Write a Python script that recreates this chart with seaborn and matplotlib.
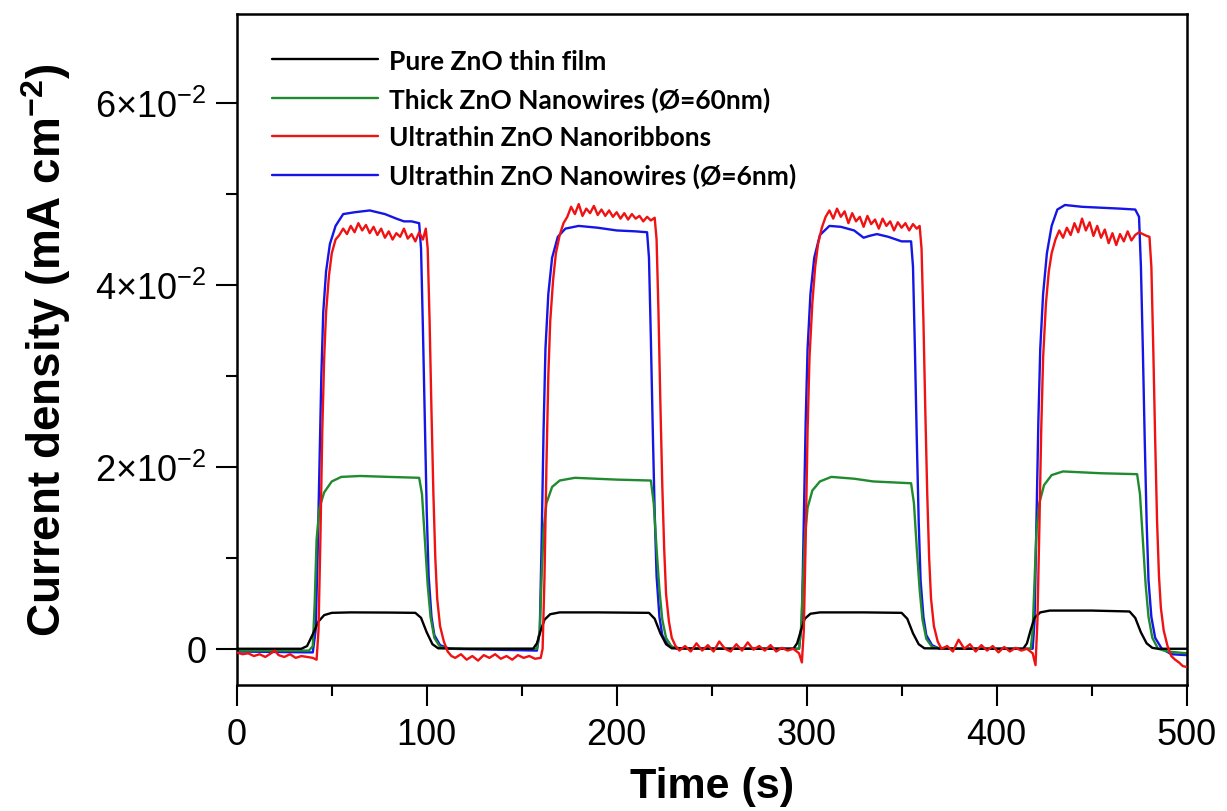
import numpy as np
import pandas as pd
import seaborn as sns
import matplotlib
matplotlib.use('Agg')
import matplotlib.pyplot as plt
from matplotlib.ticker import MultipleLocator

# photocurrent on/off cycles, values in units of 1e-3 mA cm^-2
pure_film = [(0, 0), (34, 0), (37, 0.3), (40, 1.6), (43, 3.0), (46, 3.7), (50, 3.95), (60, 4.0), (80, 3.98),
             (94, 3.95), (97, 3.4), (100, 1.8), (103, 0.5), (106, 0.05), (120, 0), (156, 0), (158, 0.6),
             (160, 2.0), (162, 3.2), (165, 3.8), (170, 4.0), (190, 4.0), (217, 3.95), (220, 3.3), (223, 1.7),
             (226, 0.5), (229, 0.05), (260, 0), (293, 0), (295, 0.6), (297, 2.0), (299, 3.3), (302, 3.85),
             (307, 4.0), (330, 4.0), (350, 3.95), (353, 3.3), (356, 1.7), (359, 0.5), (362, 0.05), (390, 0),
             (414, 0), (416, 0.6), (418, 2.1), (420, 3.4), (423, 4.0), (428, 4.2), (450, 4.2), (470, 4.1),
             (473, 3.4), (476, 1.8), (479, 0.6), (482, 0.1), (485, 0), (500, 0)]

thick_nw = [(0, -0.2), (38, -0.2), (40, 0.3), (41, 5), (42, 12), (43.5, 15.5), (46, 17.2), (50, 18.4),
            (55, 18.9), (65, 19.0), (80, 18.9), (96, 18.8), (97.5, 17), (99, 12), (100.5, 7), (102, 3.5),
            (104, 1.2), (107, 0.2), (112, 0), (158, 0), (159.5, 2), (160.5, 8), (161.5, 13), (163, 16),
            (166, 17.8), (170, 18.5), (178, 18.8), (200, 18.6), (218, 18.5), (219.5, 16), (221, 11),
            (222.5, 6.5), (224, 3.2), (226, 1.2), (229, 0.2), (235, 0), (296, 0), (297, 2), (298, 7),
            (299, 12), (300.5, 15.5), (303, 17.4), (307, 18.4), (313, 18.9), (325, 18.7), (335, 18.4),
            (345, 18.3), (355, 18.2), (356.5, 16), (358, 11), (359.5, 6.5), (361, 3.2), (363, 1.1),
            (366, 0.2), (372, 0), (418, 0), (419, 2), (420, 7.5), (421, 13), (422.5, 16), (425, 18),
            (429, 19.1), (435, 19.5), (455, 19.3), (474, 19.2), (475.5, 17), (477, 12), (478.5, 7),
            (480, 3.5), (482, 1.2), (485, 0), (490, -0.3), (500, -0.5)]

nanoribbons = [(0, -0.4), (3, -0.6), (6, -0.5), (9, -0.8), (12, -0.6), (15, -0.9), (18, -0.5), (20, -0.2),
               (22, -0.7), (25, -0.9), (28, -0.6), (31, -1.0), (34, -0.8), (37, -0.9), (40, -1.0), (42, -1.2),
               (43, 2), (44, 12), (45, 24), (46, 32), (47, 37), (48.5, 41), (50, 43.5), (52, 45), (54, 45.5),
               (56, 46.2), (58, 45.6), (60, 46.5), (62, 45.8), (64, 46.8), (66, 46.0), (68, 46.6), (70, 45.7),
               (72, 46.4), (74, 45.5), (76, 46.2), (78, 45.2), (80, 45.9), (82, 45.0), (84, 45.7), (86, 45.3),
               (88, 46.2), (90, 45.1), (92, 45.6), (94, 44.8), (96, 45.8), (98, 45.0), (99.5, 46.2),
               (100.5, 44), (101.5, 36), (102.5, 26), (103.5, 17), (104.5, 10), (105.5, 5.5), (107, 2.5),
               (109, 0.8), (111, -0.3), (113, -0.8), (115, -1.0), (118, -0.6), (121, -1.2), (124, -0.8),
               (127, -1.3), (130, -0.7), (133, -1.0), (136, -0.6), (139, -1.1), (142, -0.8), (145, -1.2),
               (148, -0.7), (151, -1.0), (154, -0.8), (157, -1.1), (160, -1.0), (161, 0), (162, 8), (163, 20),
               (164, 30), (165, 36), (166.5, 40.5), (168, 43.5), (170, 45.5), (172, 46.8), (174, 47.5),
               (176, 48.6), (178, 47.8), (180, 48.9), (182, 47.6), (184, 48.4), (186, 47.9), (188, 48.7),
               (190, 47.7), (192, 48.3), (194, 47.6), (196, 48.2), (198, 47.5), (200, 48.0), (202, 47.3),
               (204, 47.9), (206, 47.2), (208, 47.8), (210, 47.3), (212, 47.6), (214, 47.0), (216, 47.5),
               (218, 47.1), (220, 47.4), (221, 45), (222, 37), (223, 27), (224, 18), (225, 11), (226, 6),
               (227.5, 3), (229, 1.2), (231, 0.3), (233, -0.2), (236, 0.3), (239, -0.3), (242, 0.6),
               (245, -0.2), (248, 0.4), (251, -0.3), (254, 0.8), (257, 0.0), (260, -0.3), (263, 0.5),
               (266, -0.2), (269, 0.7), (272, -0.1), (275, 0.3), (278, -0.2), (281, 0.4), (284, -0.3),
               (287, 0.1), (290, -0.2), (293, 0.0), (296, -0.5), (297.5, -1.5), (298.5, 2), (299.5, 12),
               (300.5, 24), (301.5, 32), (303, 38), (304.5, 42), (306, 44.5), (308, 46.3), (310, 47.5),
               (312, 48.2), (314, 47.3), (316, 48.4), (318, 47.5), (320, 48.1), (322, 46.8), (324, 47.9),
               (326, 47.0), (328, 47.5), (330, 46.4), (332, 47.6), (334, 46.7), (336, 47.2), (338, 46.2),
               (340, 47.3), (342, 46.5), (344, 47.0), (346, 46.0), (348, 46.9), (350, 46.3), (352, 46.8),
               (354, 46.0), (356, 46.7), (358, 46.2), (359.5, 46.5), (360.5, 44), (361.5, 36), (362.5, 26),
               (363.5, 17), (364.5, 10), (365.5, 5.5), (367, 2.5), (369, 0.8), (371, 0.0), (374, 0.3),
               (377, -0.3), (380, 1.0), (383, 0.0), (386, 0.5), (389, -0.3), (392, 0.4), (395, -0.2),
               (398, 0.3), (401, -0.4), (404, 0.2), (407, -0.3), (410, 0.1), (413, -0.2), (416, 0.0),
               (419, -0.5), (420.5, -1.8), (421.5, 3), (422.5, 13), (423.5, 24), (424.5, 32), (426, 38),
               (427.5, 41.5), (429, 43.5), (431, 45.0), (433, 46.0), (435, 45.2), (437, 46.3), (439, 45.5),
               (441, 46.8), (443, 45.8), (445, 47.3), (447, 46.0), (449, 46.9), (451, 45.4), (453, 46.5),
               (455, 45.2), (457, 46.1), (459, 44.6), (461, 45.7), (463, 44.4), (465, 45.6), (467, 44.8),
               (469, 45.9), (471, 44.9), (473, 45.5), (475, 45.8), (477, 45.6), (479, 45.4), (480.5, 45.3),
               (481.5, 42), (482.5, 33), (483.5, 23), (484.5, 14), (485.5, 8), (486.5, 4.5), (488, 2),
               (490, 0.3), (492, -0.8), (494, -1.2), (496, -1.5), (498, -1.9), (500, -2.0)]

thin_nw = [(0, -0.3), (40, -0.4), (41.5, 2), (42.5, 10), (43.5, 20), (44.5, 30), (45.5, 37), (47, 41.5),
           (49, 44.5), (52, 46.5), (56, 47.8), (62, 48.0), (70, 48.2), (78, 47.8), (84, 47.3), (88, 47.0),
           (92, 47.0), (96, 46.8), (97, 44), (98, 35), (99, 25), (100, 15), (101, 8), (102.5, 3.5),
           (104, 1.5), (107, 0.4), (112, 0), (158, -0.2), (159.5, 2), (160.5, 12), (161.5, 24), (162.5, 33),
           (164, 39), (166, 43), (169, 45.3), (173, 46.2), (180, 46.5), (190, 46.3), (200, 46.0),
           (210, 45.9), (216, 45.8), (217, 43), (218, 34), (219, 24), (220, 15), (221, 8), (222.5, 3.5),
           (224, 1.5), (227, 0.4), (232, 0), (296, 0), (297.5, 3), (298.5, 14), (299.5, 25), (300.5, 33),
           (302, 39), (304, 43), (307, 45.5), (312, 46.5), (318, 46.4), (325, 46), (330, 45.2), (333, 45.4),
           (337, 45.6), (343, 45.3), (350, 44.8), (355, 44.8), (356, 42), (357, 33), (358, 23), (359, 14),
           (360, 7.5), (361.5, 3.5), (363, 1.5), (366, 0.4), (370, 0), (419, 0), (420, 3), (421, 14),
           (422, 25), (423, 33), (424.5, 39), (426.5, 43.5), (429, 46.5), (432, 48.3), (436, 48.8),
           (445, 48.6), (455, 48.5), (465, 48.4), (473, 48.3), (475, 47.5), (476, 42), (477, 33), (478, 23),
           (479, 14), (480, 7.5), (481.5, 3.5), (483.5, 1.2), (487, 0), (492, -0.6), (500, -0.7)]

names = ['Pure ZnO thin film', 'Thick ZnO Nanowires (Ø=60nm)',
         'Ultrathin ZnO Nanoribbons', 'Ultrathin ZnO Nanowires (Ø=6nm)']
colours = ['#000000', '#1f8a2e', '#f01212', '#1515e6']

frames = []
for name, series in zip(names, [pure_film, thick_nw, nanoribbons, thin_nw]):
    d = pd.DataFrame(series, columns=['t', 'j'])
    d['j'] = d['j'] * 1e-3
    d['sample'] = name
    frames.append(d)
df = pd.concat(frames, ignore_index=True)

sns.set_style('ticks', {'axes.edgecolor': 'black', 'text.color': 'black', 'axes.labelcolor': 'black',
                        'xtick.color': 'black', 'ytick.color': 'black'})
plt.rcParams['font.family'] = ['Liberation Sans', 'DejaVu Sans']
plt.rcParams['mathtext.fontset'] = 'custom'
plt.rcParams['mathtext.rm'] = 'Liberation Sans'
plt.rcParams['mathtext.default'] = 'regular'

fig = plt.figure(figsize=(12.27, 8.12), dpi=100, facecolor='w')
ax = fig.add_axes([0.193, 0.155, 0.774, 0.8265])

sns.lineplot(data=df, x='t', y='j', hue='sample', hue_order=names, palette=colours,
             estimator=None, sort=False, linewidth=1.7, ax=ax)

# red on top, black above blue/green
zorders = [3, 2.2, 3.5, 2.1]
for line, z in zip(ax.get_lines()[:4], zorders):
    line.set_zorder(z)

ax.set_xlim(0, 500)
ax.set_ylim(-0.004, 0.0698)
ax.xaxis.set_major_locator(MultipleLocator(100))
ax.xaxis.set_minor_locator(MultipleLocator(50))
ax.set_yticks([0, 0.02, 0.04, 0.06],
              ['0', r'$2{\times}10^{-2}$', r'$4{\times}10^{-2}$', r'$6{\times}10^{-2}$'])
ax.yaxis.set_minor_locator(MultipleLocator(0.01))
ax.tick_params(which='major', direction='out', length=15, width=1.5, labelsize=26, pad=7)
ax.tick_params(which='minor', direction='out', length=8, width=1.5)
ax.tick_params(axis='x', which='major', pad=8)

for s in ax.spines.values():
    s.set_linewidth(1.8)
    s.set_visible(True)

ax.set_xlabel('Time (s)', fontsize=31, fontweight='bold', labelpad=10)
ax.set_ylabel(r'Current density (mA cm$^{-2}$)', fontsize=33, fontweight='bold', labelpad=16)

handles, labels = ax.get_legend_handles_labels()
leg = ax.legend(handles, labels, loc='upper left', bbox_to_anchor=(0.012, 0.984), frameon=False,
                handlelength=4.0, handletextpad=0.42, labelspacing=0.52,
                prop={'family': 'Lato', 'weight': 'bold', 'size': 19})
for l in leg.get_lines():
    l.set_linewidth(1.7)

plt.savefig('out.png', dpi=100, facecolor='w')
